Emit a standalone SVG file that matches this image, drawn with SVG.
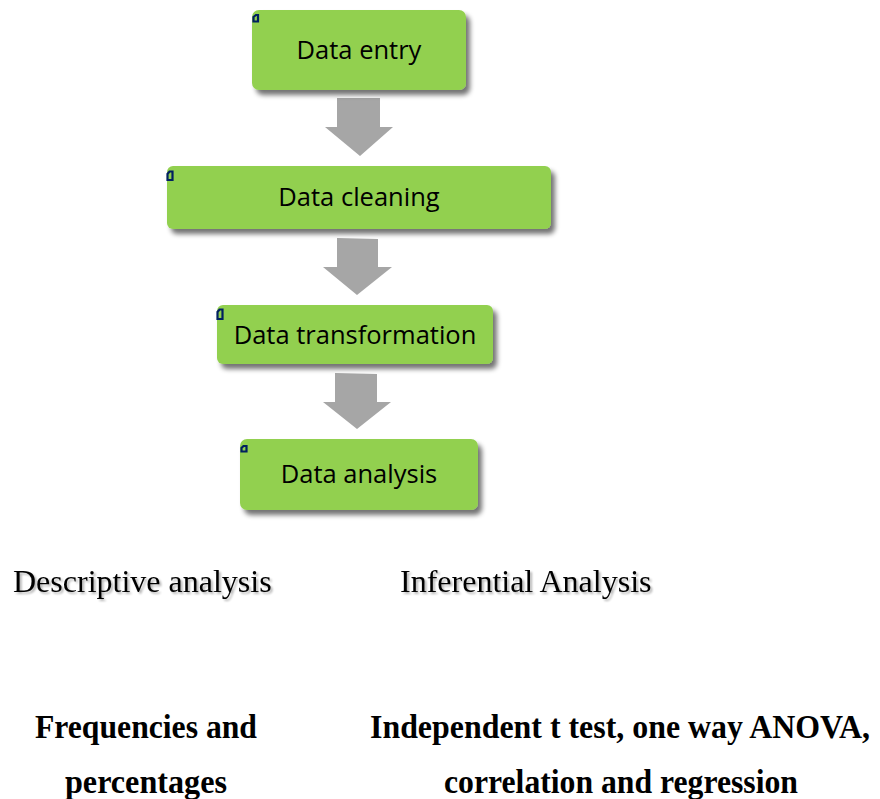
<svg xmlns="http://www.w3.org/2000/svg" width="880" height="799" viewBox="0 0 880 799">
  <defs>
    <filter id="boxShadow" x="-10%" y="-20%" width="125%" height="150%">
      <feGaussianBlur in="SourceAlpha" stdDeviation="2.5"/>
      <feOffset dx="4" dy="5" result="b"/>
      <feComponentTransfer><feFuncA type="linear" slope="0.55"/></feComponentTransfer>
      <feMerge><feMergeNode/><feMergeNode in="SourceGraphic"/></feMerge>
    </filter>
    <filter id="textShadow" x="-5%" y="-20%" width="110%" height="150%">
      <feGaussianBlur in="SourceAlpha" stdDeviation="1"/>
      <feOffset dx="1.5" dy="1.5"/>
      <feComponentTransfer><feFuncA type="linear" slope="0.3"/></feComponentTransfer>
      <feMerge><feMergeNode/><feMergeNode in="SourceGraphic"/></feMerge>
    </filter>
  </defs>
  <style>
    .box { fill: #92d050; filter: url(#boxShadow); }
    .label { font-family: "Open Sans", "Noto Sans", sans-serif; font-size: 25.5px; fill: #000; text-anchor: middle; }
    .arrow { fill: #a6a6a6; }
    .tick { fill: none; stroke: #002060; stroke-width: 2.2; }
    .heading { font-family: "Liberation Serif", "Times New Roman", serif; font-size: 32px; fill: #000; filter: url(#textShadow); }
    .detail { font-family: "Liberation Serif", "Times New Roman", serif; font-weight: bold; font-size: 33px; fill: #000; text-anchor: middle; }
  </style>
  <rect width="880" height="799" fill="#ffffff"/>

  <g id="connectors">
    <polygon class="arrow" points="337,98 380,98 380,127 393,127 360,156 325,127 337,127"/>
    <polygon class="arrow" points="337,238 378,239 378,267 392,267 357,295 323,267 337,267"/>
    <polygon class="arrow" points="335,373 377,374 377,402 391,402 357,429 323,402 335,402"/>
  </g>

  <g id="node-data-entry">
    <rect class="box" x="252" y="10" width="214" height="80" rx="7"/>
    <path class="tick" d="M253.5,21.5 L253.5,17 L256,15 L258,15 L258,21.5 Z" stroke="#000"/>
    <text class="label" x="359" y="59">Data entry</text>
  </g>

  <g id="node-data-cleaning">
    <rect class="box" x="167" y="166" width="384" height="63" rx="6"/>
    <path class="tick" d="M167.5,180 L167.5,174 L169.5,171.5 L172.5,171.5 L172.5,180 Z"/>
    <text class="label" x="359" y="206">Data cleaning</text>
  </g>

  <g id="node-data-transformation">
    <rect class="box" x="217" y="305" width="276" height="59" rx="6"/>
    <path class="tick" d="M217.5,319 L217.5,312 L219.5,309.5 L222.5,309.5 L222.5,319 Z"/>
    <text class="label" x="355" y="344">Data transformation</text>
  </g>

  <g id="node-data-analysis">
    <rect class="box" x="240" y="439" width="238" height="71" rx="7"/>
    <path class="tick" d="M241.5,451.5 L241.5,448 L243.5,446 L246.5,446 L246.5,451.5 Z"/>
    <text class="label" x="359" y="483">Data analysis</text>
  </g>

  <g id="node-descriptive">
    <text class="heading" x="13" y="592">Descriptive analysis</text>
  </g>
  <g id="node-inferential">
    <text class="heading" x="400" y="592">Inferential Analysis</text>
  </g>

  <!-- condensed bold captions: narrowed horizontally by 0.9 -->
  <g id="node-frequencies" transform="scale(0.9,1)">
    <text class="detail" x="162.2" y="738" textLength="246.7" lengthAdjust="spacingAndGlyphs">Frequencies and</text>
    <text class="detail" x="162.2" y="793" textLength="180" lengthAdjust="spacingAndGlyphs">percentages</text>
  </g>
  <g id="node-tests" transform="scale(0.9,1)">
    <text class="detail" x="688.9" y="738" textLength="555.6" lengthAdjust="spacingAndGlyphs">Independent t test, one way ANOVA,</text>
    <text class="detail" x="690" y="793" textLength="393.3" lengthAdjust="spacingAndGlyphs">correlation and regression</text>
  </g>
</svg>
